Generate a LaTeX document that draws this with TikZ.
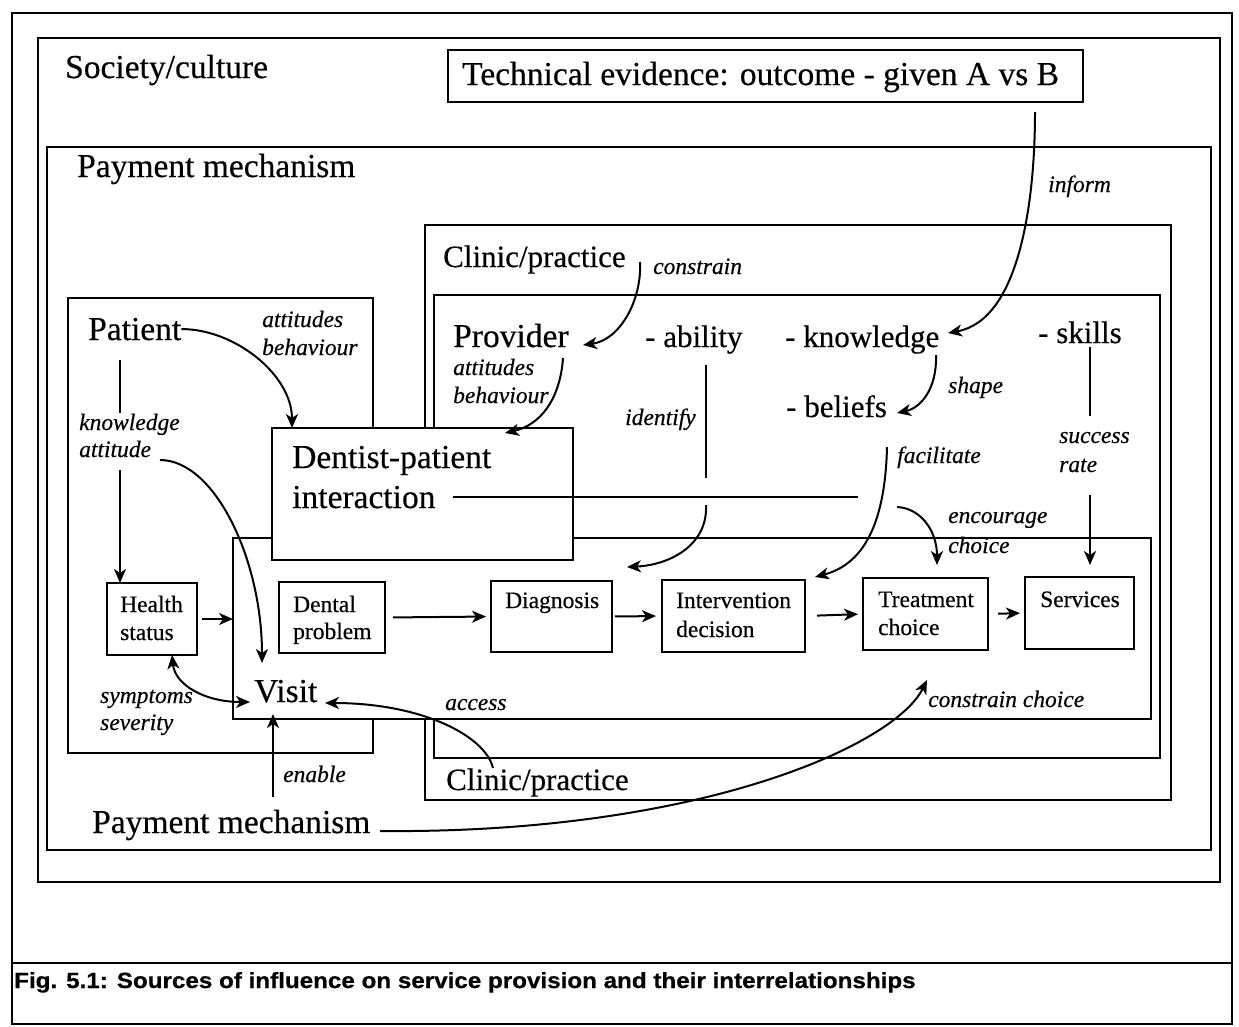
\documentclass[tikz,border=0pt]{standalone}
\usepackage{fontspec}
\usepackage{graphicx}
\setmainfont{Liberation Serif}[FakeBold=0.4]
\newfontfamily\capfont{Liberation Sans}[FakeBold=0.6]
\usetikzlibrary{arrows.meta}
\newcommand\bigf{\fontsize{33.5}{38}\selectfont}
\newcommand\midf{\fontsize{31}{36}\selectfont}
\newcommand\smf{\fontsize{23.5}{27}\selectfont}
\newcommand\itf{\fontsize{23.5}{27}\selectfont\itshape}
\begin{document}
\begin{tikzpicture}[x=1pt,y=-1pt,
  frame/.style={draw, line width=2.5pt, inner sep=0, outer sep=0, anchor=north west},
  wframe/.style={frame, fill=white},
  lbl/.style={inner sep=0, anchor=base west},
  big/.style={lbl, font=\bigf},
  mid/.style={lbl, font=\midf},
  sm/.style={lbl, font=\smf},
  it/.style={lbl, font=\itf},
  con/.style={line width=2pt},
  arr/.style={con, -{Stealth[length=14pt,width=12pt,inset=4pt]}},
  darr/.style={con, {Stealth[length=14pt,width=12pt,inset=4pt]}-{Stealth[length=14pt,width=12pt,inset=4pt]}}]
\useasboundingbox (0,0) rectangle (1239,1026);
% frames
\node[frame, minimum width=1220, minimum height=1011] (outer) at (12,13) {};
\coordinate (capl) at (12,963);
\draw[line width=2.5pt] (capl) -- (capl -| outer.east);
\node[frame, minimum width=1182, minimum height=844] (soc) at (38,38) {};
\node[frame, minimum width=1164, minimum height=703] (pay) at (47,147) {};
\node[frame, minimum width=635, minimum height=52] (tech) at (448,50) {};
\node[frame, minimum width=746, minimum height=575] (clinic) at (425,225) {};
\node[frame, minimum width=726, minimum height=463] (prov) at (434,295) {};
\node[frame, minimum width=305, minimum height=455] (pat) at (68,298) {};
\node[wframe, minimum width=918, minimum height=181] (proc) at (233,538) {};
\node[wframe, minimum width=301, minimum height=132] (dpi) at (272,428) {};
% process boxes
\node[frame, minimum width=90, minimum height=72] (hs) at (107,583) {};
\node[frame, minimum width=106, minimum height=71] (dp) at (279,582) {};
\node[frame, minimum width=121, minimum height=71] (diag) at (491,581) {};
\node[frame, minimum width=143, minimum height=72] (int) at (662,580) {};
\node[frame, minimum width=125, minimum height=72] (tc) at (863,578) {};
\node[frame, minimum width=109, minimum height=72] (serv) at (1025,577) {};
% big texts
\node[big] (tsoc) at (65,78) {Society/culture};
\node[big] (ttech) at (462,85) {Technical evidence: outcome - given A vs B};
\node[big] (tpay) at (77,177) {Payment mechanism};
\node[mid] (tclin) at (443,267) {Clinic/practice};
\node[big] (tpat) at (88,340) {Patient};
\node[big] (tprov) at (453,347) {Provider};
\node[mid] (tab) at (645,347) {- ability};
\node[mid] (tkn) at (785,347) {- knowledge};
\node[mid] (tsk) at (1038,343) {- skills};
\node[mid] (tbel) at (786,417) {- beliefs};
\node[big] (tdp1) at (292,468) {Dentist-patient};
\node[big] (tdp2) at (292,508) {interaction};
\node[big] (tvis) at (254,702) {Visit};
\node[big] (tpay2) at (92,833) {Payment mechanism};
\node[mid] (tclin2) at (446,790) {Clinic/practice};
% box texts
\node[sm] (ths1) at (120,612) {Health};
\node[sm] (ths2) at (120,640) {status};
\node[sm] (tdp1b) at (293,612) {Dental};
\node[sm] (tdp2b) at (293,639) {problem};
\node[sm] (tdiag) at (505,608) {Diagnosis};
\node[sm] (tint1) at (676,608) {Intervention};
\node[sm] (tint2) at (676,637) {decision};
\node[sm] (ttc1) at (878,607) {Treatment};
\node[sm] (ttc2) at (878,635) {choice};
\node[sm] (tserv) at (1040,607) {Services};
% italic labels
\node[it] (l1) at (262,327) {attitudes};
\node[it] (l2) at (262,355) {behaviour};
\node[it] (l3) at (79,430) {knowledge};
\node[it] (l4) at (79,457) {attitude};
\node[it] (l5) at (653,274) {constrain};
\node[it] (l6) at (1048,192) {inform};
\node[it] (l7) at (453,375) {attitudes};
\node[it] (l8) at (453,403) {behaviour};
\node[it] (l9) at (625,425) {identify};
\node[it] (l10) at (948,393) {shape};
\node[it] (l11) at (897,463) {facilitate};
\node[it] (l12) at (1059,443) {success};
\node[it] (l13) at (1059,472) {rate};
\node[it] (l14) at (948,523) {encourage};
\node[it] (l15) at (948,553) {choice};
\node[it] (l16) at (100,703) {symptoms};
\node[it] (l17) at (100,730) {severity};
\node[it] (l18) at (283,782) {enable};
\node[it] (l19) at (445,710) {access};
\node[it] (l20) at (928,707) {constrain choice};
% caption
\node[lbl, font=\capfont\bfseries\fontsize{22}{25}\selectfont] (cap) at (14,988) {\scalebox{1.1}[1]{Fig. 5.1: Sources of influence on service provision and their interrelationships}};
% coordinates for free ends
\coordinate (pa1) at (120,360); \coordinate (pa2) at (120,413); \coordinate (pa3) at (120,470);
\coordinate (at1) at (160,460); \coordinate (vi1) at (262,663);
\coordinate (vi2) at (250,702);
\coordinate (en1) at (273,797); \coordinate (vi3) at (273,714);
\coordinate (ac1) at (493,768); \coordinate (vi4) at (325,703);
\coordinate (pm1) at (380,831); \coordinate (tc1) at (927,680);
\coordinate (in1) at (1035,112); \coordinate (kn1) at (948,333);
\coordinate (cl1) at (640,262); \coordinate (pr1) at (583,345);
\coordinate (pr2) at (563,358);
\coordinate (ab1) at (706,365); \coordinate (ab2) at (706,478); \coordinate (ab3) at (706,505); \coordinate (dg1) at (627,567);
\coordinate (kn2) at (936,355); \coordinate (be1) at (897,413);
\coordinate (be2) at (887,447); \coordinate (iv1) at (815,577);
\coordinate (sk1) at (1090,347); \coordinate (sk2) at (1090,416); \coordinate (sk3) at (1090,495);
\coordinate (ia1) at (453,497); \coordinate (ia2) at (858,497); \coordinate (ia3) at (897,507); \coordinate (tc2) at (937,565);
% connectors
\draw[arr] (tpat.east) .. controls (235,329) and (292,375) .. ([xshift=20pt]dpi.north west);
\draw[con] (pa1) -- (pa2);
\draw[arr] (pa3) -- (hs.north -| pa3);
\draw[arr] (at1) .. controls (215,460) and (262,560) .. (vi1);
\draw[arr, shorten <=5pt] (hs.east) -- (hs.east -| proc.west);
\draw[darr] ([xshift=20pt]hs.south) .. controls (175,685) and (205,702) .. (vi2);
\draw[arr] (en1) -- (vi3);
\draw[arr] (ac1) .. controls (485,735) and (420,703) .. (vi4);
\draw[arr] (pm1) .. controls (700,834) and (895,745) .. (tc1);
\draw[arr] (in1) .. controls (1035,200) and (1020,320) .. (kn1);
\draw[arr] (cl1) .. controls (642,300) and (620,340) .. (pr1);
\draw[arr] (pr2) .. controls (560,400) and (540,425) .. ([xshift=233pt,yshift=-5pt]dpi.north west);
\draw[con] (ab1) -- (ab2);
\draw[arr] (ab3) .. controls (708,545) and (670,565) .. (dg1);
\draw[arr] (kn2) .. controls (937,390) and (920,408) .. (be1);
\draw[arr] (be2) .. controls (885,530) and (860,565) .. (iv1);
\draw[con] (sk1) -- (sk2);
\draw[arr] (sk3) -- (tc2 -| sk3);
\draw[con] (ia1) -- (ia2);
\draw[arr] (ia3) .. controls (920,508) and (937,530) .. (tc2);
\draw[arr, shorten <=8pt, shorten >=5pt] (dp.east) -- (diag.west);
\draw[arr, shorten <=3pt, shorten >=6pt] (diag.east) -- (int.west);
\draw[arr, shorten <=12pt, shorten >=5pt] (int.east) -- (tc.west);
\draw[arr, shorten <=10pt, shorten >=5pt] (tc.east) -- (serv.west);
\end{tikzpicture}
\end{document}
